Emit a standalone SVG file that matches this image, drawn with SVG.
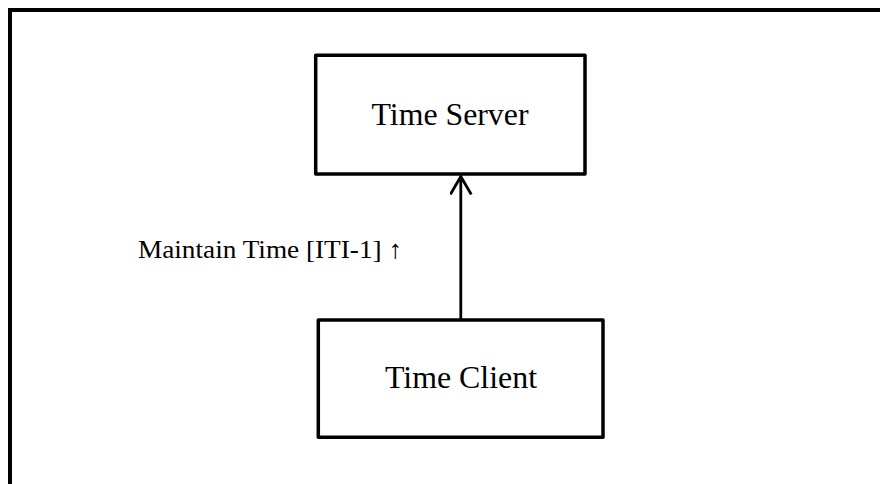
<svg xmlns="http://www.w3.org/2000/svg" width="880" height="484" viewBox="0 0 880 484">
  <style>
    .box { fill: #ffffff; stroke: #000000; stroke-width: 3.5; stroke-linejoin: round; }
    .frame { fill: none; stroke: #000000; stroke-width: 4; }
    .node-text { font-family: "Liberation Serif", "Times New Roman", serif; font-size: 31px; fill: #000000; text-anchor: middle; }
    .label { font-family: "Liberation Serif", "Times New Roman", serif; font-size: 26px; fill: #000000; }
    .edge { fill: none; stroke: #000000; stroke-width: 2.8; }
  </style>
  <defs>
    <marker id="openArrow" markerUnits="userSpaceOnUse" markerWidth="30" markerHeight="30" refX="18" refY="11" orient="auto">
      <path d="M 0 0.5 L 18 11 L 0 21.5" fill="none" stroke="#000000" stroke-width="2.8"/>
    </marker>
  </defs>
  <rect x="0" y="0" width="880" height="484" fill="#ffffff"/>
  <path class="frame" d="M 10 484 L 10 10 L 880 10"/>
  <g id="connectors">
    <line class="edge" x1="460.8" y1="320" x2="460.8" y2="176.5" marker-end="url(#openArrow)"/>
    <text class="label" x="138" y="258" textLength="264" lengthAdjust="spacingAndGlyphs">Maintain Time [ITI-1] ↑</text>
  </g>
  <g id="time-server">
    <rect class="box" x="315.7" y="55.3" width="269.3" height="118.7"/>
    <text class="node-text" x="450" y="125" textLength="157" lengthAdjust="spacingAndGlyphs">Time Server</text>
  </g>
  <g id="time-client">
    <rect class="box" x="318.3" y="320" width="284.7" height="117.3"/>
    <text class="node-text" x="461" y="388" textLength="152" lengthAdjust="spacingAndGlyphs">Time Client</text>
  </g>
</svg>
